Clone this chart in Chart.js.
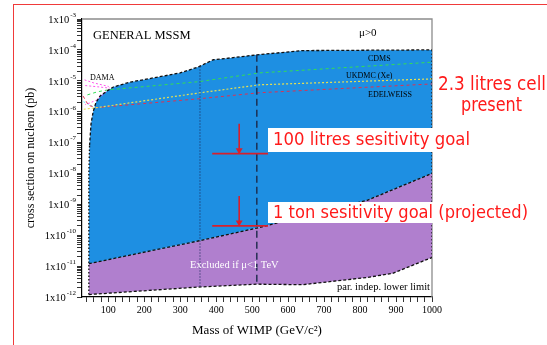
<!DOCTYPE html>
<html>
<head>
<meta charset="utf-8">
<script src="https://cdn.jsdelivr.net/npm/chart.js@4.4.1/dist/chart.umd.min.js"></script>
<style>
  html, body { margin: 0; padding: 0; background: #fff; overflow: hidden; width: 547px; height: 345px; }
  #wrap { position: relative; width: 547px; height: 345px; }
  #wrap canvas { display: block; position: absolute; left: 0; top: 0; }
  #slide { position: absolute; left: 13px; top: 4px; width: 600px; height: 400px;
    border-left: 1.5px solid #f03a3a; border-top: 1.5px solid #f03a3a; pointer-events: none; }
</style>
</head>
<body>
<div id="wrap"><canvas id="chart" width="547" height="345"></canvas><div id="slide"></div></div>
<script>
// axis ticks
const xLabels = [100, 200, 300, 400, 500, 600, 700, 800, 900, 1000];
const xMinor = [40, 60, 80, 100, 120, 140, 160, 180, 200, 220, 240, 260, 280, 300, 320, 340, 360, 380, 400,
  420, 440, 460, 480, 500, 520, 540, 560, 580, 600, 620, 640, 660, 680, 700, 720, 740, 760, 780, 800,
  820, 840, 860, 880, 900, 920, 940, 960, 980, 1000];
const yExponents = [-12, -11, -10, -9, -8, -7, -6, -5, -4, -3];

// [mass GeV, cross section pb]
const leftEdge = [[46, 1.2e-12], [46, 1.2e-11], [46, 1e-8], [48, 8e-8]];
const blueTop = [[48, 8e-8], [52, 4e-7], [58, 1e-6], [66, 2e-6], [78, 3.3e-6], [95, 4.5e-6], [114, 6.3e-6],
  [160, 9e-6], [210, 1.15e-5], [300, 1.8e-5], [350, 2.8e-5], [392, 4.8e-5], [440, 5.5e-5], [513, 6.9e-5],
  [640, 9.5e-5], [1000, 1e-4]];
const rightEdge = [[1000, 1e-4], [1000, 1e-8], [1000, 1.9e-11]];
const purpleTop = [[46, 1.2e-11], [350, 6.5e-11], [513, 1.7e-10], [820, 1.35e-9], [1000, 1e-8]];
const purpleBottom = [[46, 1.2e-12], [350, 2.1e-12], [513, 2.6e-12], [640, 2.5e-12], [820, 4.3e-12],
  [890, 5.8e-12], [1000, 1.9e-11]];
const dottedMass = [[355, 2.9e-5], [355, 2.1e-12]];
const dashedMass = [[513, 6.9e-5], [513, 2.6e-12]];

const cdms = [[42, 3.5e-6], [70, 4.4e-6], [100, 5.1e-6], [350, 9.3e-6], [520, 1.8e-5], [1000, 4e-5]];
const ukdmc = [[32, 1.2e-6], [68, 1.35e-6], [350, 4e-6], [520, 7.4e-6], [1000, 1.15e-5]];
const edelweiss = [[30, 3.2e-6], [45, 1.6e-6], [68, 1.35e-6], [350, 2.6e-6], [520, 4.1e-6], [1000, 7.9e-6]];
const damaOuter = [[34, 1.07e-5], [60, 8.5e-6], [100, 6.6e-6], [104, 5.8e-6], [90, 4e-6], [68, 2.4e-6],
  [48, 1.9e-6], [36, 1.7e-6]];
const damaInner = [[36, 7e-6], [70, 6.4e-6], [103, 5.8e-6]];
const damaCyan = [[31, 2.1e-6], [64, 1.35e-6]];

// red goal markers
const goal100 = [[389, 4.4e-8], [544, 4.4e-8]];
const arrow100 = [[464, 4.1e-7], [464, 5.6e-8]];
const goal1t = [[389, 2e-10], [544, 2e-10]];
const arrow1t = [[464, 1.86e-9], [464, 2.6e-10]];

const pts = arr => arr.map(([x, y]) => ({ x, y }));
const serif = 'Liberation Serif';

const bluePoly = [...leftEdge.slice(1), ...blueTop, ...rightEdge.slice(1, 2), ...purpleTop.slice().reverse()];
const purplePoly = [...purpleTop, ...purpleBottom.slice().reverse()];

const line = (data, color, dash, width = 1.2, extra = {}) => ({
  data: pts(data), showLine: true, borderColor: color, borderDash: dash, borderWidth: width,
  pointRadius: 0, fill: false, ...extra
});

const arrow = (data) => line(data, '#d8202c', [], 1.6, {
  pointRadius: [0, 4], pointStyle: 'triangle', rotation: 180,
  pointBackgroundColor: '#d8202c', pointBorderColor: '#d8202c', pointBorderWidth: 0
});

const frame = {
  id: 'frame',
  beforeDatasetsDraw(chart) {
    const { ctx, chartArea: a } = chart;
    ctx.save();
    ctx.strokeStyle = '#8c8c8c';
    ctx.lineWidth = 1.3;
    ctx.beginPath();
    ctx.moveTo(a.left, a.top);
    ctx.lineTo(a.right, a.top);
    ctx.lineTo(a.right, a.bottom);
    ctx.stroke();
    ctx.restore();
  },
  afterDraw(chart) {
    const { ctx } = chart;
    const y = chart.scales.y;
    ctx.save();
    ctx.fillStyle = '#000';
    ctx.textBaseline = 'middle';
    // y tick labels with superscript exponents
    yExponents.forEach(e => {
      const py = y.getPixelForValue(Math.pow(10, e));
      ctx.font = `7px "${serif}"`;
      const sup = String(e);
      const sw = ctx.measureText(sup).width;
      ctx.font = `10.5px "${serif}"`;
      const bw = ctx.measureText('1x10').width;
      const end = 76;
      ctx.textAlign = 'left';
      ctx.fillText('1x10', end - sw - bw - 1, py + 1);
      ctx.font = `7px "${serif}"`;
      ctx.fillText(sup, end - sw, py - 4);
    });

    // text inside the plot
    const txt = (t, x, yy, size, color = '#000', align = 'left') => {
      ctx.font = `${size}px "${serif}"`;
      ctx.fillStyle = color;
      ctx.textAlign = align;
      ctx.fillText(t, x, yy);
    };
    txt('GENERAL MSSM', 93, 36, 12.5);
    txt('\u03bc>0', 359, 33, 11);
    txt('DAMA', 90, 78, 8);
    txt('CDMS', 368, 59, 8);
    txt('UKDMC (Xe)', 346, 76, 8);
    txt('EDELWEISS', 368, 95, 8);
    txt('Excluded if \u03bc<1 TeV', 190, 265, 10.5, '#fff');
    txt('par. indep. lower limit', 430, 287, 10.5, '#000', 'right');

    // red notes
    const red = (t, x, yy, width, size) => {
      ctx.font = `${size}px "DejaVu Sans"`;
      const w = ctx.measureText(t).width;
      ctx.save();
      ctx.translate(x, yy);
      ctx.scale(width / w, 1);
      ctx.fillStyle = '#ff1a1a';
      ctx.textAlign = 'left';
      ctx.fillText(t, 0, 0);
      ctx.restore();
    };
    ctx.fillStyle = '#fff';
    ctx.fillRect(268, 128, 280, 24);
    ctx.fillRect(268, 202, 280, 21);
    red('100 litres sesitivity goal', 273, 140, 197, 18);
    red('1 ton sesitivity goal (projected)', 273, 213, 255, 18);
    red('2.3 litres cell', 438, 85, 108, 19);
    red('present', 461, 106, 61, 19);
    ctx.restore();
  }
};

new Chart(document.getElementById('chart'), {
  type: 'scatter',
  data: {
    datasets: [
      arrow(arrow100),
      line(goal100, '#d8202c', [], 1.8),
      arrow(arrow1t),
      line(goal1t, '#d8202c', [], 1.8),
      line(dashedMass, '#1c2a4a', [7, 4], 1.4),
      line(dottedMass, '#1c2a5a', [1, 2], 1.1),
      line(blueTop, '#111', [3, 2], 1.3),
      line(leftEdge, '#111', [1.5, 2], 1.3),
      line(rightEdge, '#111', [1.5, 2], 1.3),
      line(purpleTop, '#111', [3, 2], 1.3),
      line(purpleBottom, '#111', [3, 2], 1.3),
      line(cdms, '#33dd55', [3, 3], 1),
      line(ukdmc, '#e8e050', [2, 2], 1.2),
      line(edelweiss, '#e03050', [3, 3], 1),
      line(damaOuter, '#ff55ee', [2, 2], 1),
      line(damaInner, '#ff55ee', [2, 2], 1),
      line(damaCyan, '#66eeff', [2, 2], 1),
      line(bluePoly, 'rgba(0,0,0,0)', [], 0, { fill: 'shape', backgroundColor: '#1e8fe2' }),
      line(purplePoly, 'rgba(0,0,0,0)', [], 0, { fill: 'shape', backgroundColor: '#b07fce' })
    ]
  },
  options: {
    responsive: false,
    animation: false,
    layout: { padding: { top: 19, right: 115, left: 0, bottom: 0 } },
    plugins: { legend: { display: false }, tooltip: { enabled: false } },
    elements: { line: { tension: 0 } },
    scales: {
      x: {
        type: 'linear', min: 27, max: 1000,
        afterBuildTicks: s => { s.ticks = xMinor.map(value => ({ value })); },
        afterFit: s => { s.height = 48; },
        ticks: {
          autoSkip: false, maxRotation: 0, padding: 2, color: '#000',
          font: { family: serif, size: 10 },
          callback: v => (xLabels.includes(v) ? String(v) : '')
        },
        grid: { drawOnChartArea: false, tickLength: 5, color: '#000', lineWidth: 0.8 },
        border: { color: '#000', width: 1.2 },
        title: {
          display: true, text: 'Mass of WIMP (GeV/c\u00b2)', color: '#000',
          font: { family: serif, size: 13 }, padding: { top: 0, bottom: 7 }
        }
      },
      y: {
        type: 'logarithmic', min: 1e-12, max: 1e-3,
        afterBuildTicks: s => {
          const t = [];
          yExponents.forEach(e => {
            for (let m = 1; m <= 9; m++) {
              const v = m * Math.pow(10, e);
              if (v <= 1.0001e-3) t.push({ value: v, major: m === 1 });
            }
          });
          s.ticks = t;
        },
        afterFit: s => { s.width = 82; },
        ticks: { display: false },
        grid: { drawOnChartArea: false, tickLength: 5, color: '#000', lineWidth: 0.8 },
        border: { color: '#000', width: 1.2 },
        title: {
          display: true, text: 'cross section on nucleon (pb)', color: '#000',
          font: { family: serif, size: 12 }, padding: { top: 24, bottom: 0 }
        }
      }
    }
  },
  plugins: [frame]
});
</script>
</body>
</html>
